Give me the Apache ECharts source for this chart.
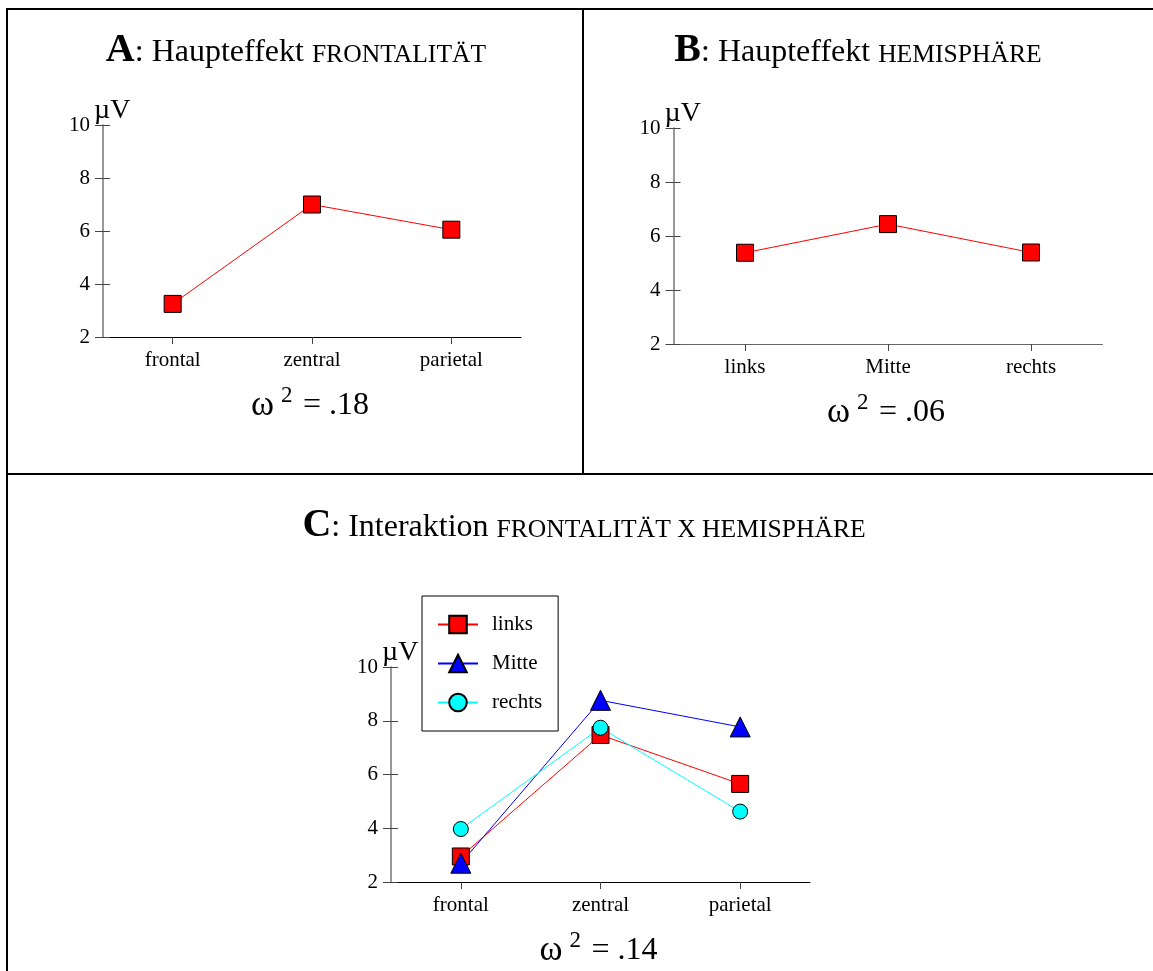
<!DOCTYPE html>
<html>
<head>
<meta charset="utf-8">
<script src="https://cdn.jsdelivr.net/npm/echarts@6/dist/echarts.min.js"></script>
<style>
html,body{margin:0;padding:0;background:#fff;}
#c{width:1153px;height:971px;}
</style>
</head>
<body>
<div id="c"></div>
<script>
// ---- data ----
var catsFront = ['frontal', 'zentral', 'parietal'];
var catsHemi = ['links', 'Mitte', 'rechts'];
var valsA = [3.25, 7.0, 6.05];
var valsB = [5.38, 6.44, 5.39];
var valsCLinks = [2.95, 7.47, 5.65];
var valsCMitte = [2.7, 8.76, 7.77];
var valsCRechts = [3.97, 7.74, 4.62];
var yMin = 2, yMax = 10, yStep = 2;
var omegaA = '= .18', omegaB = '= .06', omegaC = '= .14';

var FF = '"Liberation Serif", "Times New Roman", serif';

var grids = [
  {left: 103, top: 125, width: 418, height: 212},
  {left: 673.5, top: 128, width: 429, height: 216},
  {left: 391, top: 667, width: 419, height: 215}
];

var chart = echarts.init(document.getElementById('c'), null, {renderer: 'canvas'});

function xAx(i, cats, col) {
  return {
    type: 'category', gridIndex: i, data: cats, boundaryGap: true,
    axisLine: {show: true, lineStyle: {color: col, width: 1}},
    axisTick: {show: true, alignWithLabel: true, length: 7, lineStyle: {color: '#444'}},
    axisLabel: {color: '#000', fontSize: 21, fontFamily: FF, margin: 13},
    splitLine: {show: false}
  };
}
function yAxMain(i) {
  return {
    type: 'value', gridIndex: i, min: yMin, max: yMax, interval: yStep,
    axisLine: {show: true, lineStyle: {color: '#777', width: 1.5}},
    axisTick: {show: true, length: 8, lineStyle: {color: '#444'}},
    axisLabel: {color: '#000', fontSize: 21, fontFamily: FF, margin: 13},
    splitLine: {show: false}
  };
}
function yAxInner(i) {
  return {
    type: 'value', gridIndex: i, min: yMin, max: yMax, interval: yStep, position: 'left',
    axisLine: {show: false},
    axisTick: {show: true, inside: true, length: 7, lineStyle: {color: '#444'}},
    axisLabel: {show: false},
    splitLine: {show: false}
  };
}

function lineSeries(name, data, xi, yi, color, symbol, size) {
  return {
    name: name, type: 'line', xAxisIndex: xi, yAxisIndex: yi, data: data,
    symbol: symbol, symbolSize: size,
    lineStyle: {color: color, width: 1},
    itemStyle: {color: color, borderColor: '#000', borderWidth: 1, opacity: 1},
    emphasis: {disabled: true},
    animation: false
  };
}

var graphics = [];
// frame lines
function hline(x1, x2, y) { graphics.push({type: 'line', shape: {x1: x1, y1: y, x2: x2, y2: y}, style: {stroke: '#000', lineWidth: 2}}); }
function vline(x, y1, y2) { graphics.push({type: 'line', shape: {x1: x, y1: y1, x2: x, y2: y2}, style: {stroke: '#000', lineWidth: 2}}); }
hline(6, 1153, 9);
vline(7, 8, 971);
vline(583, 9, 474);
hline(6, 1153, 474);

// titles
function title(cx, baseline, letter, rest, caps) {
  graphics.push({
    type: 'text',
    style: {
      text: '{b|' + letter + '}{r|' + rest + '}{c|' + caps + '}',
      x: cx, y: baseline + 9,
      textAlign: 'center', align: 'center', textVerticalAlign: 'bottom', verticalAlign: 'bottom',
      rich: {
        b: {fontFamily: FF, fontSize: 40, fontWeight: 'bold', fill: '#000', verticalAlign: 'bottom'},
        r: {fontFamily: FF, fontSize: 32, fill: '#000', verticalAlign: 'bottom', padding: [0, 0, 2, 0]},
        c: {fontFamily: FF, fontSize: 25.6, fill: '#000', verticalAlign: 'bottom', padding: [0, 0, 3, 0]}
      }
    }
  });
}
title(296, 62, 'A', ': Haupteffekt ', 'FRONTALITÄT');
title(858, 62, 'B', ': Haupteffekt ', 'HEMISPHÄRE');
title(584, 537, 'C', ': Interaktion ', 'FRONTALITÄT X HEMISPHÄRE');

// µV and omega labels relative to grids
function txt(t, x, y, size, align) {
  graphics.push({type: 'text', style: {text: t, x: x, y: y, fontFamily: FF, fontSize: size, fill: '#000',
    textAlign: align, align: align, textVerticalAlign: 'bottom', verticalAlign: 'bottom'}});
}
var omegas = [omegaA, omegaB, omegaC];
grids.forEach(function (g, i) {
  txt('µV', g.left - 9, g.top, 28, 'left');
  var c = g.left + g.width / 2;
  var base = g.top + g.height + 78;
  txt('ω', c - 61, base + 8, 35, 'left');
  txt('2', c - 31, base - 13 + 5, 23, 'left');
  txt(omegas[i], c - 9, base + 7, 32, 'left');
});

var option = {
  backgroundColor: '#fff',
  animation: false,
  grid: grids.map(function (g) { return {left: g.left, top: g.top, width: g.width, height: g.height, containLabel: false}; }),
  xAxis: [xAx(0, catsFront, '#000'), xAx(1, catsHemi, '#666'), xAx(2, catsFront, '#000')],
  yAxis: [yAxMain(0), yAxInner(0), yAxMain(1), yAxInner(1), yAxMain(2), yAxInner(2)],
  legend: {
    show: true, orient: 'vertical', left: 422, top: 596,
    data: ['links', 'Mitte', 'rechts'],
    itemWidth: 40, itemHeight: 22, itemGap: 18,
    padding: [18, 16, 18, 15],
    borderColor: '#000', borderWidth: 1, backgroundColor: '#fff',
    textStyle: {fontFamily: FF, fontSize: 21, color: '#000', padding: [0, 0, 0, 9]},
    selectedMode: false
  },
  series: [
    lineSeries('A', valsA, 0, 0, '#ff0000', 'rect', 17),
    lineSeries('B', valsB, 1, 2, '#ff0000', 'rect', 17),
    lineSeries('links', valsCLinks, 2, 4, '#ff0000', 'rect', 17),
    lineSeries('Mitte', valsCMitte, 2, 4, '#0000ff', 'triangle', 20),
    lineSeries('rechts', valsCRechts, 2, 4, '#00ffff', 'circle', 15)
  ],
  graphic: graphics
};
chart.setOption(option);
</script>
</body>
</html>
